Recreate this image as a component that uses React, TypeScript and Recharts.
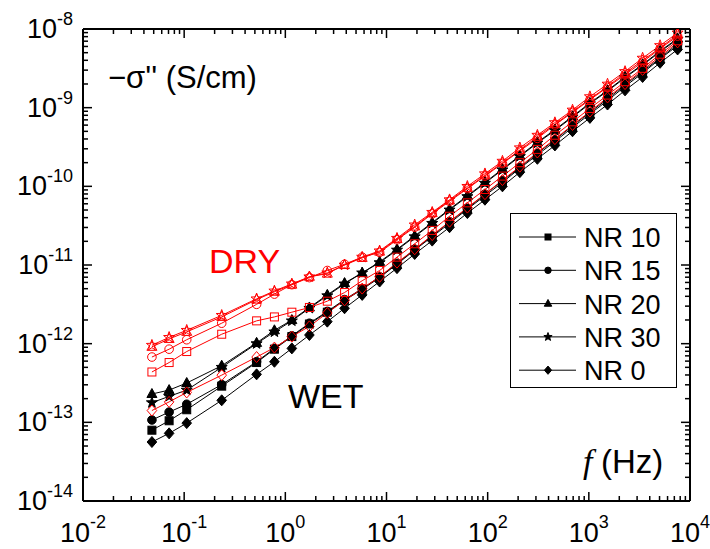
import React from 'react';
import { LineChart, Line, XAxis, YAxis, Legend } from 'recharts';

// frequency (Hz)
const freq = [
  0.048, 0.071, 0.106, 0.235, 0.52, 0.78, 1.16, 1.73, 2.6, 3.85, 5.75, 8.55, 12.7, 19, 28.3,
  42, 63, 94, 140, 208, 310, 462, 690, 1025, 1530, 2280, 3400, 5060, 7540,
];

// log10 of -sigma'' (S/cm)
const wetNR10 = [-13.10, -12.98, -12.84, -12.54, -12.24, -12.07, -11.91, -11.75, -11.60, -11.45, -11.31, -11.16, -10.99, -10.81, -10.64, -10.47, -10.29, -10.12, -9.95, -9.77, -9.60, -9.43, -9.25, -9.08, -8.91, -8.73, -8.56, -8.38, -8.21];
const wetNR15 = [-12.97, -12.87, -12.77, -12.52, -12.23, -12.06, -11.90, -11.74, -11.59, -11.44, -11.30, -11.15, -10.98, -10.80, -10.63, -10.45, -10.28, -10.10, -9.93, -9.76, -9.58, -9.41, -9.23, -9.06, -8.89, -8.71, -8.54, -8.37, -8.19];
const wetNR20 = [-12.64, -12.59, -12.50, -12.28, -11.99, -11.83, -11.70, -11.54, -11.38, -11.23, -11.10, -10.96, -10.80, -10.63, -10.46, -10.29, -10.12, -9.95, -9.78, -9.61, -9.44, -9.28, -9.11, -8.94, -8.78, -8.61, -8.45, -8.28, -8.12];
const wetNR30 = [-12.75, -12.67, -12.59, -12.30, -12.00, -11.85, -11.71, -11.55, -11.39, -11.24, -11.10, -10.97, -10.81, -10.64, -10.47, -10.30, -10.13, -9.96, -9.79, -9.62, -9.45, -9.29, -9.12, -8.95, -8.79, -8.62, -8.46, -8.29, -8.13];
const wetNR0 = [-13.25, -13.14, -13.01, -12.72, -12.39, -12.23, -12.06, -11.89, -11.72, -11.55, -11.38, -11.21, -11.04, -10.86, -10.69, -10.52, -10.34, -10.17, -10.00, -9.82, -9.65, -9.48, -9.30, -9.13, -8.96, -8.78, -8.61, -8.43, -8.26];

const dryNR10 = [-12.36, -12.24, -12.10, -11.88, -11.71, -11.66, -11.60, -11.54, -11.46, -11.35, -11.20, -11.07, -10.90, -10.73, -10.56, -10.38, -10.21, -10.04, -9.87, -9.70, -9.53, -9.35, -9.18, -9.01, -8.84, -8.67, -8.50, -8.32, -8.15];
const dryNR15 = [-12.17, -12.07, -11.95, -11.74, -11.50, -11.37, -11.25, -11.16, -11.07, -10.99, -10.90, -10.84, -10.68, -10.52, -10.35, -10.19, -10.03, -9.87, -9.71, -9.55, -9.39, -9.22, -9.06, -8.90, -8.74, -8.58, -8.42, -8.25, -8.09];
const dryNR20 = [-12.04, -11.94, -11.85, -11.66, -11.44, -11.34, -11.25, -11.15, -11.11, -11.00, -10.91, -10.83, -10.67, -10.51, -10.34, -10.18, -10.02, -9.86, -9.70, -9.54, -9.37, -9.21, -9.05, -8.89, -8.73, -8.56, -8.40, -8.24, -8.07];
const dryNR30 = [-12.02, -11.92, -11.83, -11.64, -11.43, -11.33, -11.24, -11.15, -11.10, -11.00, -10.90, -10.82, -10.66, -10.49, -10.33, -10.17, -10.00, -9.84, -9.68, -9.51, -9.35, -9.19, -9.03, -8.86, -8.70, -8.54, -8.37, -8.21, -8.05];
const dryNR0 = [-12.85, -12.74, -12.62, -12.40, -12.17, -12.05, -11.91, -11.78, -11.61, -11.45, -11.30, -11.15, -10.97, -10.80, -10.62, -10.45, -10.27, -10.10, -9.92, -9.75, -9.57, -9.40, -9.22, -9.05, -8.87, -8.70, -8.52, -8.35, -8.17];

const legendNames = ['NR 10', 'NR 15', 'NR 20', 'NR 30', 'NR 0'];
const shapes = ['square', 'circle', 'triangle', 'star', 'diamond'];

const series = [
  { key: 'wet10', values: wetNR10, shape: 'square', color: '#000000', filled: true },
  { key: 'wet15', values: wetNR15, shape: 'circle', color: '#000000', filled: true },
  { key: 'wet20', values: wetNR20, shape: 'triangle', color: '#000000', filled: true },
  { key: 'wet30', values: wetNR30, shape: 'star', color: '#000000', filled: true },
  { key: 'wet0', values: wetNR0, shape: 'diamond', color: '#000000', filled: true },
  { key: 'dry10', values: dryNR10, shape: 'square', color: '#ff0000', filled: false },
  { key: 'dry15', values: dryNR15, shape: 'circle', color: '#ff0000', filled: false },
  { key: 'dry20', values: dryNR20, shape: 'triangle', color: '#ff0000', filled: false },
  { key: 'dry30', values: dryNR30, shape: 'star', color: '#ff0000', filled: false },
  { key: 'dry0', values: dryNR0, shape: 'diamond', color: '#ff0000', filled: false },
];

const data = freq.map((f, i) => {
  const row: Record<string, number> = { f };
  series.forEach((s) => {
    row[s.key] = Math.pow(10, s.values[i]);
  });
  return row;
});

function logTicks(lo: number, hi: number) {
  const out: number[] = [];
  for (let d = lo; d <= hi; d++) {
    out.push(Number(`1e${d}`));
    if (d < hi) for (let k = 2; k <= 9; k++) out.push(Number(`${k}e${d}`));
  }
  return out;
}
const xTicks = logTicks(-2, 4);
const yTicks = logTicks(-14, -8);

const FONT = '"Liberation Sans", Arial, sans-serif';

function isMajor(v: number) {
  const l = Math.log10(v);
  return Math.abs(l - Math.round(l)) < 1e-9;
}

function Marker({ shape, x, y, color, filled, s = 1 }: any) {
  const p = { fill: filled ? color : 'none', stroke: color, strokeWidth: 1 };
  if (shape === 'square') return <rect x={x - 4 * s} y={y - 4 * s} width={8 * s} height={8 * s} {...p} />;
  if (shape === 'circle') return <circle cx={x} cy={y} r={4.3 * s} {...p} />;
  if (shape === 'triangle')
    return <polygon points={`${x},${y - 5.5 * s} ${x - 5 * s},${y + 3.5 * s} ${x + 5 * s},${y + 3.5 * s}`} {...p} />;
  if (shape === 'diamond')
    return <polygon points={`${x},${y - 5.5 * s} ${x + 4.8 * s},${y} ${x},${y + 5.5 * s} ${x - 4.8 * s},${y}`} {...p} />;
  const pts: string[] = [];
  for (let i = 0; i < 10; i++) {
    const a = ((-90 + i * 36) * Math.PI) / 180;
    const r = (i % 2 ? 2.4 : 5.8) * s;
    pts.push(`${x + r * Math.cos(a)},${y + r * Math.sin(a)}`);
  }
  return <polygon points={pts.join(' ')} {...p} />;
}

const makeDot = (shape: string, color: string, filled: boolean) => (props: any) => {
  const { cx, cy, index } = props;
  if (cx == null || cy == null) return <g key={index} />;
  return (
    <g key={`${shape}-${index}`}>
      <Marker shape={shape} x={cx} y={cy} color={color} filled={filled} />
    </g>
  );
};

const expLabel = (v: number) => String(Math.round(Math.log10(v)));

function BottomTick({ x, y, payload }: any) {
  const major = isMajor(payload.value);
  return (
    <g>
      <line x1={x} y1={y} x2={x} y2={y - (major ? 9 : 5)} stroke="#000" strokeWidth={1.5} />
      {major && (
        <text x={x} y={y + 41} textAnchor="middle" fontFamily={FONT} fontSize={27} fill="#000">
          <tspan>10</tspan>
          <tspan fontSize={18} dy={-14}>{expLabel(payload.value)}</tspan>
        </text>
      )}
    </g>
  );
}

function TopTick({ x, y, payload }: any) {
  const major = isMajor(payload.value);
  return <line x1={x} y1={y} x2={x} y2={y + (major ? 9 : 5)} stroke="#000" strokeWidth={1.5} />;
}

function LeftTick({ x, y, payload }: any) {
  const major = isMajor(payload.value);
  return (
    <g>
      <line x1={x} y1={y} x2={x + (major ? 9 : 5)} y2={y} stroke="#000" strokeWidth={1.5} />
      {major && (
        <text x={x - 10} y={y + 9} textAnchor="end" fontFamily={FONT} fontSize={27} fill="#000">
          <tspan>10</tspan>
          <tspan fontSize={18} dy={-13}>{expLabel(payload.value)}</tspan>
        </text>
      )}
    </g>
  );
}

function RightTick({ x, y, payload }: any) {
  const major = isMajor(payload.value);
  return <line x1={x} y1={y} x2={x - (major ? 9 : 5)} y2={y} stroke="#000" strokeWidth={1.5} />;
}

function LegendBox() {
  return (
    <svg width={167} height={175} style={{ display: 'block' }}>
      <rect x={0.5} y={0.5} width={166} height={174} fill="#fff" stroke="#000" strokeWidth={1} />
      {legendNames.map((name, i) => {
        const cy = 24 + i * 33.3;
        return (
          <g key={name}>
            <line x1={9} y1={cy} x2={66} y2={cy} stroke="#000" strokeWidth={1} />
            <Marker shape={shapes[i]} x={38} y={cy} color="#000" filled s={0.75} />
            <text x={74} y={cy + 10} fontFamily={FONT} fontSize={27} fill="#000">
              {name}
            </text>
          </g>
        );
      })}
    </svg>
  );
}

export default function App() {
  return (
    <div style={{ position: 'absolute', left: 0, top: 0, width: 710, height: 549, background: '#fff' }}>
      <LineChart width={710} height={549} data={data} margin={{ top: 28, right: 19, bottom: 0, left: 0 }}>
        <XAxis
          xAxisId="b"
          dataKey="f"
          type="number"
          scale="log"
          domain={[0.01, 10000]}
          allowDataOverflow
          ticks={xTicks}
          interval={0}
          tickSize={0}
          tickMargin={0}
          tickLine={false}
          tick={<BottomTick />}
          axisLine={{ stroke: '#000', strokeWidth: 2 }}
          height={48}
        />
        <XAxis
          xAxisId="t"
          orientation="top"
          dataKey="f"
          type="number"
          scale="log"
          domain={[0.01, 10000]}
          allowDataOverflow
          ticks={xTicks}
          interval={0}
          tickSize={0}
          tickMargin={0}
          tickLine={false}
          tick={<TopTick />}
          axisLine={{ stroke: '#000', strokeWidth: 2 }}
          height={1}
        />
        <YAxis
          yAxisId="l"
          type="number"
          scale="log"
          domain={[1e-14, 1e-8]}
          allowDataOverflow
          ticks={yTicks}
          interval={0}
          tickSize={0}
          tickMargin={0}
          tickLine={false}
          tick={<LeftTick />}
          axisLine={{ stroke: '#000', strokeWidth: 2 }}
          width={83}
        />
        <YAxis
          yAxisId="r"
          orientation="right"
          type="number"
          scale="log"
          domain={[1e-14, 1e-8]}
          allowDataOverflow
          ticks={yTicks}
          interval={0}
          tickSize={0}
          tickMargin={0}
          tickLine={false}
          tick={<RightTick />}
          axisLine={{ stroke: '#000', strokeWidth: 2 }}
          width={1}
        />
        <Legend
          layout="vertical"
          align="center"
          verticalAlign="middle"
          content={() => <LegendBox />}
          wrapperStyle={{ left: 510, top: 213, width: 167, height: 175 }}
        />
        {series.map((s) => (
          <Line
            key={s.key}
            xAxisId="b"
            yAxisId="l"
            dataKey={s.key}
            stroke={s.color}
            strokeWidth={1}
            dot={makeDot(s.shape, s.color, s.filled)}
            activeDot={false}
            legendType="none"
            isAnimationActive={false}
          />
        ))}
      </LineChart>
      <svg
        width={710}
        height={549}
        style={{ position: 'absolute', left: 0, top: 0, pointerEvents: 'none' }}
      >
        <text x={108} y={88} fontFamily={FONT} fontSize={31} fill="#000">
          −σ'' (S/cm)
        </text>
        <text x={209} y={273} fontFamily={FONT} fontSize={34} fill="#ff0000">
          DRY
        </text>
        <text x={288} y={408} fontFamily={FONT} fontSize={34} fill="#000">
          WET
        </text>
        <text x={583} y={473} fontFamily='"Liberation Serif", "Times New Roman", serif' fontStyle="italic" fontSize={34} fill="#000">
          f
        </text>
        <text x={601} y={473} fontFamily={FONT} fontSize={33} fill="#000">
          (Hz)
        </text>
      </svg>
    </div>
  );
}
